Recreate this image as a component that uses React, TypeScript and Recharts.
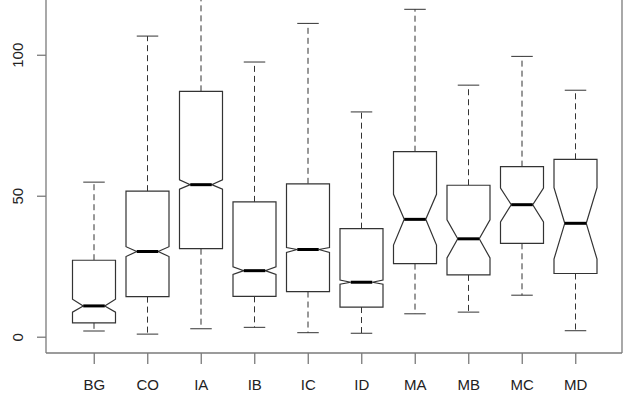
import React from "react";
import { ComposedChart, Bar, XAxis, YAxis } from "recharts";

const categories = ["BG", "CO", "IA", "IB", "IC", "ID", "MA", "MB", "MC", "MD"];
const lowerWhisker = [2.2, 1.1, 3.0, 3.5, 1.6, 1.4, 8.3, 8.9, 14.9, 2.3];
const q1 = [5.1, 14.4, 31.4, 14.5, 16.2, 10.7, 26.1, 22.1, 33.3, 22.6];
const median = [11.1, 30.4, 54.1, 23.6, 31.1, 19.5, 41.8, 34.9, 47.0, 40.4];
const q3 = [27.3, 51.8, 87.2, 48.0, 54.4, 38.5, 65.8, 53.9, 60.5, 63.1];
const upperWhisker = [55.0, 106.8, 135, 97.6, 111.3, 79.9, 116.3, 89.4, 99.6, 87.6];
const notchLow = [8.9, 28.6, 52.5, 22.3, 30.1, 18.8, 32.7, 28.1, 40.9, 27.7];
const notchHigh = [13.5, 32.1, 55.8, 25.0, 31.8, 20.3, 50.7, 41.6, 52.9, 53.0];
const yTicks = [0, 50, 100];

const data = categories.map((name, i) => ({
  name,
  lo: lowerWhisker[i],
  q1: q1[i],
  med: median[i],
  q3: q3[i],
  hi: upperWhisker[i],
  nLo: notchLow[i],
  nHi: notchHigh[i],
}));

const FONT = "'Liberation Sans', Arial, Helvetica, sans-serif";
const AXIS = "#7a7a7a";
const LINE = "#333";

// notched box drawn inside the range bar [lo, hi]
const NotchedBox = (props: any) => {
  const { x, y, width, height, payload: d } = props;
  const py = (v: number) => y + (height * (d.hi - v)) / (d.hi - d.lo);
  const cx = x + width / 2;
  const hw = width / 2;
  const nw = hw / 2;
  const pts = [
    [cx - hw, py(d.q1)],
    [cx - hw, py(d.nLo)],
    [cx - nw, py(d.med)],
    [cx - hw, py(d.nHi)],
    [cx - hw, py(d.q3)],
    [cx + hw, py(d.q3)],
    [cx + hw, py(d.nHi)],
    [cx + nw, py(d.med)],
    [cx + hw, py(d.nLo)],
    [cx + hw, py(d.q1)],
  ]
    .map((p) => p.join(","))
    .join(" ");
  return (
    <g>
      <line x1={cx} x2={cx} y1={py(d.q3)} y2={py(d.hi)} stroke={LINE} strokeDasharray="6 4" />
      <line x1={cx} x2={cx} y1={py(d.q1)} y2={py(d.lo)} stroke={LINE} strokeDasharray="6 4" />
      <line x1={cx - nw} x2={cx + nw} y1={py(d.hi)} y2={py(d.hi)} stroke={LINE} />
      <line x1={cx - nw} x2={cx + nw} y1={py(d.lo)} y2={py(d.lo)} stroke={LINE} />
      <polygon points={pts} fill="#fff" stroke={LINE} strokeWidth={1.2} />
      <line x1={cx - nw} x2={cx + nw} y1={py(d.med)} y2={py(d.med)} stroke="#000" strokeWidth={3} />
    </g>
  );
};

const YTick = ({ x, y, payload }: any) => (
  <text
    x={x - 12}
    y={y}
    transform={`rotate(-90, ${x - 12}, ${y})`}
    textAnchor="middle"
    fontFamily={FONT}
    fontSize={15}
    fill="#222"
  >
    {payload.value}
  </text>
);

const XTick = ({ x, y, payload }: any) => (
  <text x={x} y={y + 24} textAnchor="middle" fontFamily={FONT} fontSize={15} fill="#222">
    {payload.value}
  </text>
);

const App = () => (
  <div style={{ position: "absolute", left: 0, top: 0, background: "#fff" }}>
    <ComposedChart
      width={623}
      height={395}
      data={data}
      margin={{ top: 0, right: 0, bottom: 0, left: 0 }}
    >
      <XAxis
        dataKey="name"
        height={42}
        padding={{ left: 21.5, right: 19.5 }}
        tickSize={11}
        stroke={AXIS}
        strokeWidth={1.3}
        tick={<XTick />}
        interval={0}
      />
      <YAxis
        yAxisId="left"
        width={46}
        domain={[-5.6, 119.6]}
        allowDataOverflow
        ticks={yTicks}
        tickSize={9}
        stroke={AXIS}
        strokeWidth={1.3}
        tick={<YTick />}
      />
      <YAxis
        yAxisId="right"
        orientation="right"
        width={1}
        domain={[-5.6, 119.6]}
        tick={false}
        tickLine={false}
        stroke={AXIS}
        strokeWidth={1.3}
      />
      <Bar
        yAxisId="left"
        dataKey={(d: any) => [d.lo, d.hi]}
        barSize={43}
        shape={<NotchedBox />}
        isAnimationActive={false}
      />
    </ComposedChart>
  </div>
);

export default App;
